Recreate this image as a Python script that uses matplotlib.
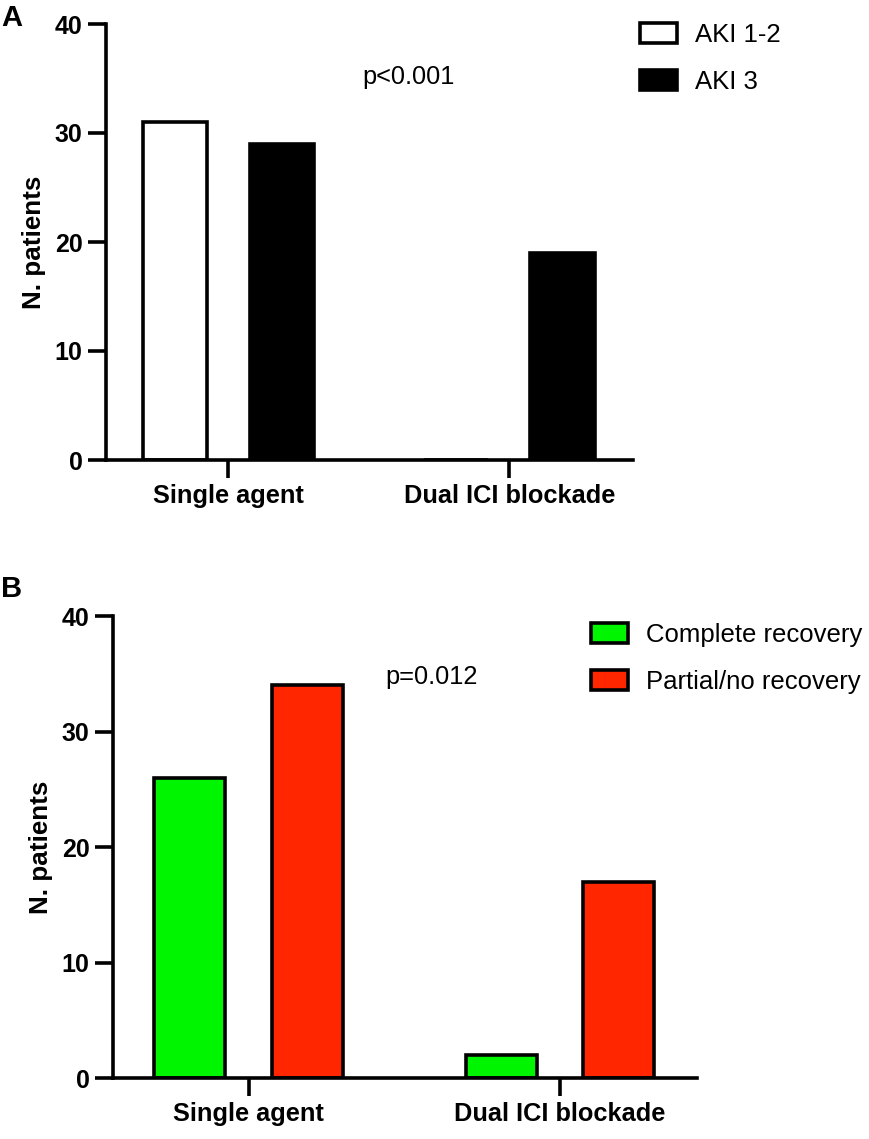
import matplotlib
matplotlib.use('Agg')
import matplotlib.pyplot as plt
import numpy as np

plt.rcParams['font.family'] = ['Liberation Sans', 'DejaVu Sans']

# ================= data
groups = ['Single agent', 'Dual ICI blockade']

aki_labels = ['AKI 1-2', 'AKI 3']
aki_12 = [31, 0]
aki_3 = [29, 19]
p_aki = 'p<0.001'

rec_labels = ['Complete recovery', 'Partial/no recovery']
rec_complete = [26, 2]
rec_partial = [34, 17]
p_rec = 'p=0.012'

yticks = [0, 10, 20, 30, 40]

W, H = 870, 1139
fig = plt.figure(figsize=(W / 100, H / 100), dpi=100)

LW = 2.6


def px_axes(left, top, right, bottom):
    # pixel box -> figure fraction
    return fig.add_axes([left / W, 1 - bottom / H, (right - left) / W, (bottom - top) / H])


def style_axes(ax):
    for s in ['top', 'right']:
        ax.spines[s].set_visible(False)
    for s in ['left', 'bottom']:
        ax.spines[s].set_linewidth(LW)
    ax.set_ylim(0, 40)
    ax.set_xlim(-0.436, 1.44)
    ax.set_yticks(yticks)
    ax.set_xticks(range(len(groups)))
    ax.set_xticklabels(groups)
    ax.tick_params(axis='both', length=13, width=LW)
    ax.tick_params(axis='y', labelsize=18, pad=4)
    ax.tick_params(axis='x', labelsize=18.3, pad=4)
    for lab in ax.get_xticklabels() + ax.get_yticklabels():
        lab.set_fontweight('bold')
    ax.set_ylabel('N. patients', fontsize=18.7, fontweight='bold', labelpad=6)


def add_legend(handles, x0, y0):
    fig.legend(handles=handles, loc='upper left', bbox_to_anchor=(x0 / W, 1 - y0 / H),
               frameon=False, fontsize=18.5, handlelength=1.45, handleheight=0.82,
               handletextpad=0.7, labelspacing=0.9)


x = np.arange(len(groups))
bw = 0.228
off = 0.189

# ================= panel A
axA = px_axes(106, 24, 633, 460)
bA1 = axA.bar(x - off, aki_12, bw, color='white', edgecolor='black', linewidth=LW, label=aki_labels[0])
bA2 = axA.bar(x + off, aki_3, bw, color='black', edgecolor='black', linewidth=LW, label=aki_labels[1])
style_axes(axA)
fig.text(362 / W, 1 - 77 / H, p_aki, fontsize=18.3, va='center', ha='left')
add_legend([bA1, bA2], 617, 0)
fig.text(1 / W, 1 - 18 / H, 'A', fontsize=21, fontweight='bold', va='center', ha='left')

# ================= panel B
axB = px_axes(113, 616, 697, 1078)
bB1 = axB.bar(x - off, rec_complete, bw, color='#00f500', edgecolor='black', linewidth=LW, label=rec_labels[0])
bB2 = axB.bar(x + off, rec_partial, bw, color='#ff2600', edgecolor='black', linewidth=LW, label=rec_labels[1])
style_axes(axB)
fig.text(385 / W, 1 - 677 / H, p_rec, fontsize=18.3, va='center', ha='left')
add_legend([bB1, bB2], 568, 600)
fig.text(1 / W, 1 - 589 / H, 'B', fontsize=21, fontweight='bold', va='center', ha='left')

fig.savefig('out.png', dpi=100)
